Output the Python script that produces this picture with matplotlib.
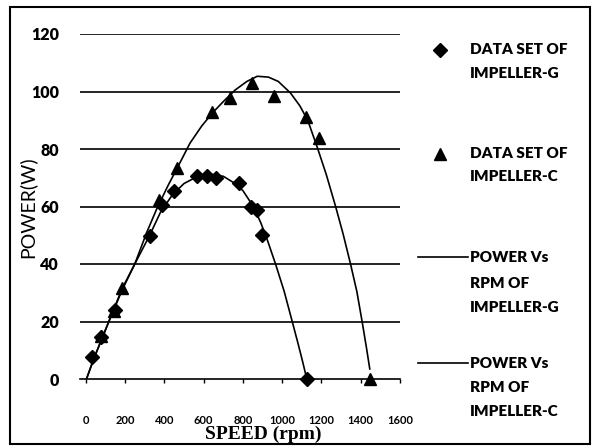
import matplotlib
matplotlib.use("Agg")
import matplotlib.pyplot as plt
from matplotlib.lines import Line2D
from matplotlib.patches import Rectangle

# data points
g_rpm = [33, 78, 146, 329, 388, 448, 566, 619, 661, 780, 839, 873, 899, 1124]
g_pow = [7.8, 14.7, 24.0, 49.6, 60.6, 65.3, 70.5, 70.5, 69.9, 68.2, 60.0, 58.9, 50.2, 0]

c_rpm = [75, 142, 186, 371, 465, 644, 732, 848, 958, 1119, 1187, 1448]
c_pow = [15.0, 23.5, 31.6, 62.4, 73.4, 92.8, 97.8, 102.8, 98.6, 91.2, 84.0, 0]

# trend curves
g_curve_rpm = [3, 40, 117, 185, 249, 325, 380, 440, 500, 570, 640, 700, 760, 800,
               853, 890, 924, 966, 1010, 1051, 1080, 1102, 1120]
g_curve_pow = [0, 7, 20, 31, 40, 50, 58, 64, 68, 70.5, 71.2, 70.5, 68, 65.5,
               60, 54.5, 48.4, 40, 30.5, 20, 12.5, 6.6, 1.5]

c_curve_rpm = [3, 40, 117, 185, 249, 310, 363, 420, 470, 530, 590, 644, 700, 760,
               820, 873, 930, 980, 1042, 1090, 1130, 1179, 1225, 1272, 1310, 1348,
               1380, 1407, 1430, 1446]
c_curve_pow = [0, 7, 20, 31.5, 40, 51, 59.5, 67.5, 74, 82, 88, 92.5, 96.5, 100.5,
               103.5, 105.3, 105, 103.5, 99.5, 95, 90, 80.5, 71, 60, 50.5, 40,
               30.5, 20, 10.5, 3.5]

x_ticks = [0, 200, 400, 600, 800, 1000, 1200, 1400, 1600]
y_ticks = [0, 20, 40, 60, 80, 100, 120]

fig = plt.figure(figsize=(5.92, 4.46), dpi=100)
ax = fig.add_axes([80 / 592, 1 - 379 / 446, 320 / 592, 345 / 446])

# horizontal gridlines
for yv in y_ticks[1:]:
    ax.axhline(yv, color="black", lw=1.2, zorder=1)

ax.plot(g_curve_rpm, g_curve_pow, color="black", lw=1.2, zorder=2)
ax.plot(c_curve_rpm, c_curve_pow, color="black", lw=1.2, zorder=2)
ax.plot(g_rpm, g_pow, ls="none", marker="D", ms=7, color="black", clip_on=False, zorder=3)
ax.plot(c_rpm, c_pow, ls="none", marker="^", ms=8.5, color="black", clip_on=False, zorder=3)

ax.set_xlim(-30, 1600)
ax.set_ylim(0, 120)
for s in ["top", "right", "left"]:
    ax.spines[s].set_visible(False)
ax.spines["bottom"].set_linewidth(1.2)

ax.set_xticks(x_ticks)
ax.set_xticklabels([str(v) for v in x_ticks], fontfamily="Lato", fontweight="bold", fontsize=8)
ax.set_yticks(y_ticks)
ax.set_yticklabels([str(v) for v in y_ticks], fontfamily="Lato", fontweight="heavy", fontsize=11.5)
ax.tick_params(axis="x", direction="out", length=3, width=1, pad=23)
ax.tick_params(axis="y", length=0, pad=15)

fig.text(27 / 592, 1 - 207 / 446, "POWER(W)", rotation=90, ha="center", va="center",
         fontfamily="Lato", fontsize=14)
fig.text(263 / 592, 1 - 434 / 446, "SPEED (rpm)", ha="center", va="center",
         fontfamily="Liberation Serif", fontweight="bold", fontsize=14)

# legend drawn by hand, like the Excel one
lx = 470 / 592
fig.add_artist(Line2D([440 / 592], [1 - 50 / 446], marker="D", ms=7, color="black", ls="none"))
fig.add_artist(Line2D([440 / 592], [1 - 154 / 446], marker="^", ms=8.5, color="black", ls="none"))
fig.add_artist(Line2D([418 / 592, 468 / 592], [1 - 257 / 446] * 2, color="black", lw=1.2))
fig.add_artist(Line2D([418 / 592, 468 / 592], [1 - 363 / 446] * 2, color="black", lw=1.2))

leg_lines = [
    (49, "DATA SET OF"), (73, "IMPELLER-G"),
    (153, "DATA SET OF"), (177, "IMPELLER-C"),
    (257, "POWER Vs"), (283, "RPM OF"), (308, "IMPELLER-G"),
    (363, "POWER Vs"), (388, "RPM OF"), (412, "IMPELLER-C"),
]
for yy, txt in leg_lines:
    fig.text(lx, 1 - yy / 446, txt, ha="left", va="center", fontfamily="Lato",
             fontweight="heavy", fontsize=11)

fig.add_artist(Rectangle((10 / 592, 2 / 446), 580 / 592, 437 / 446, transform=fig.transFigure,
                         fill=False, edgecolor="black", lw=1.5))

fig.savefig("out.png", dpi=100)
